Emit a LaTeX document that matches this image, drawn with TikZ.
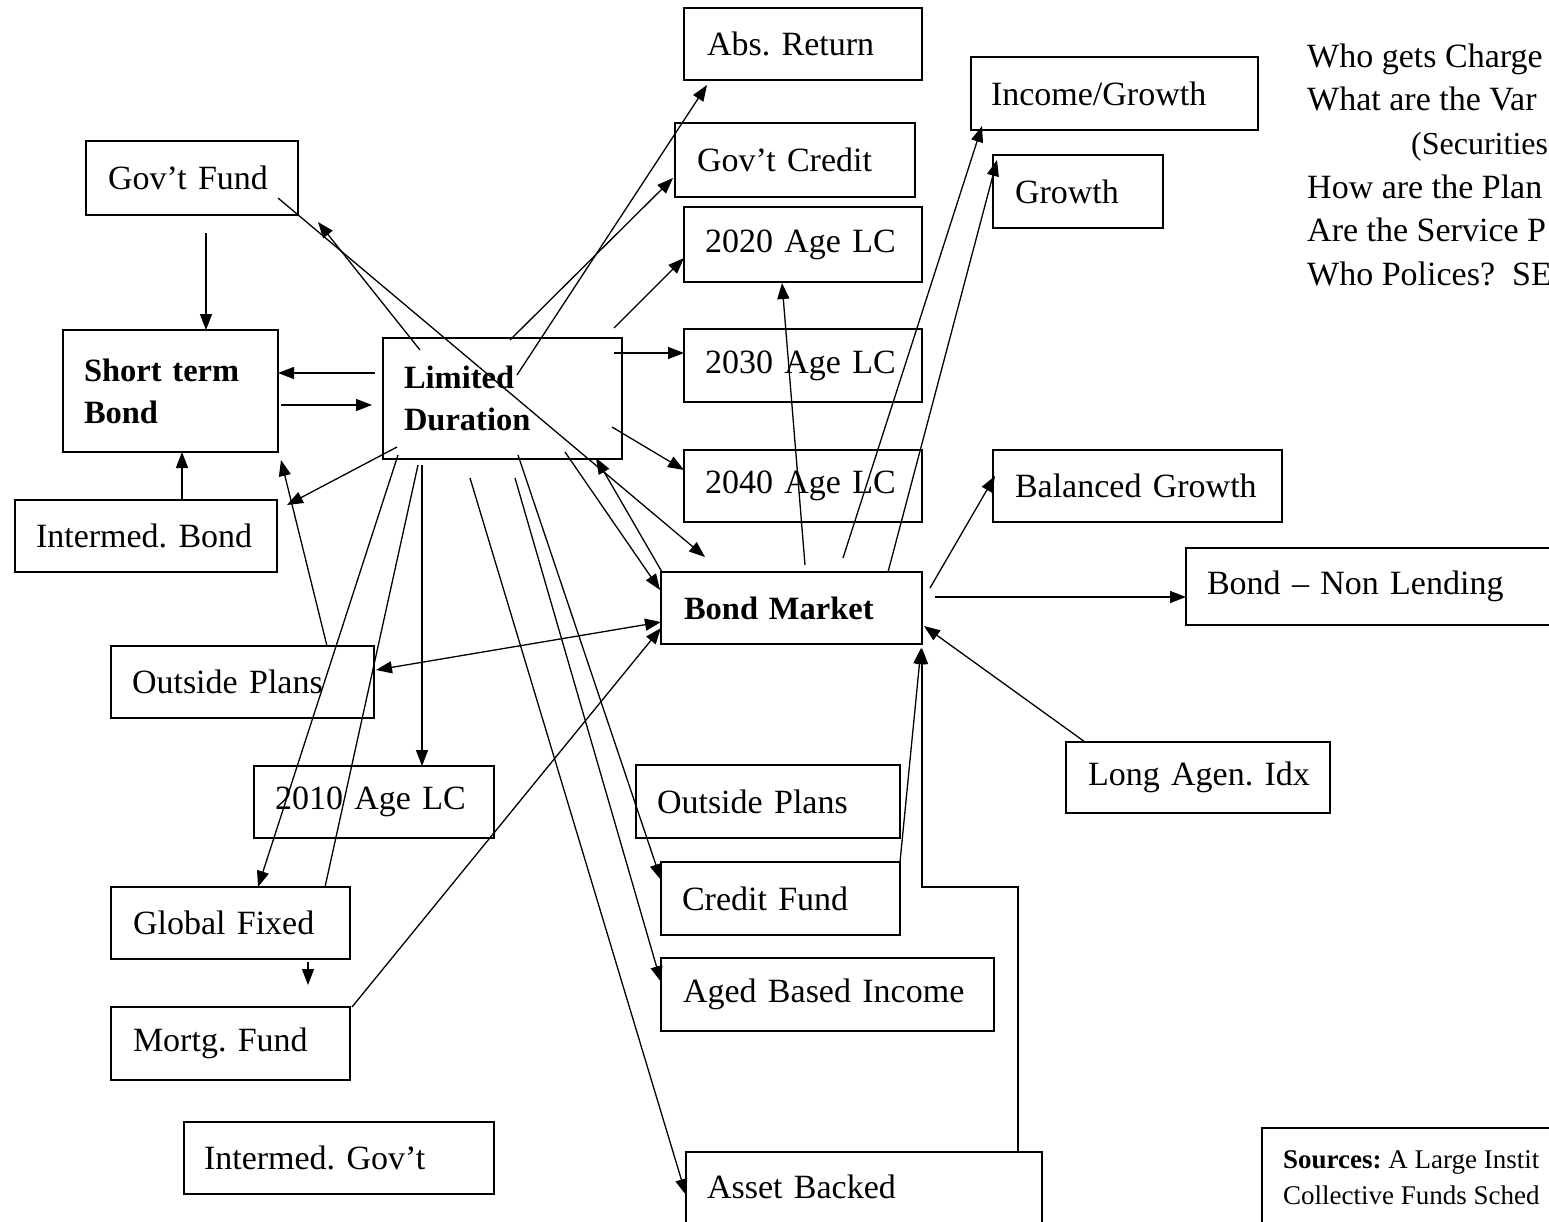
\documentclass[tikz,border=0pt]{standalone}
\usepackage{fontspec}
\setmainfont{Liberation Serif}
\usetikzlibrary{arrows.meta,calc}
\tikzset{
  bx/.style={draw, line width=1.6pt, rectangle, anchor=north west, outer sep=0pt, inner ysep=0pt, align=left, font=\fontsize{34}{42}\selectfont},
  bxb/.style={bx, font=\fontsize{32.5}{42}\selectfont\bfseries},
  arw/.style={line width=1.3pt, -{Triangle[length=16pt,width=12pt]}},
  twoarw/.style={line width=1.3pt, {Triangle[length=16pt,width=12pt]}-{Triangle[length=16pt,width=12pt]}},
  ln/.style={line width=1.3pt},
  qtext/.style={anchor=base west, inner sep=0pt, font=\fontsize{34}{42}\selectfont},
  srctext/.style={anchor=base west, inner sep=0pt, font=\fontsize{27}{36}\selectfont},
}
\begin{document}
\frenchspacing
\begin{tikzpicture}[x=1pt,y=-1pt]
\clip (0,0) rectangle (1549,1221);
% boxes
\node[bx, text width=192pt, inner xsep=23pt, minimum height=72pt] (absr) at (684,8) {\mbox{Abs. Return}};
\node[bx, text width=196pt, inner xsep=22pt, minimum height=74pt] (govc) at (675,123) {\mbox{Gov’t Credit}};
\node[bx, text width=196pt, inner xsep=21pt, minimum height=75pt] (a2020) at (684,207) {\mbox{2020 Age LC}};
\node[bx, text width=196pt, inner xsep=21pt, minimum height=73pt] (a2030) at (684,329) {\mbox{2030 Age LC}};
\node[bx, text width=196pt, inner xsep=21pt, minimum height=72pt] (a2040) at (684,450) {\mbox{2040 Age LC}};
\node[bx, text width=247pt, inner xsep=20pt, minimum height=73pt] (incg) at (971,57) {\mbox{Income/Growth}};
\node[bx, text width=126pt, inner xsep=22pt, minimum height=73pt] (grow) at (993,155) {\mbox{Growth}};
\node[bx, text width=245pt, inner xsep=22pt, minimum height=72pt] (balg) at (993,450) {\mbox{Balanced Growth}};
\node[bx, text width=372pt, inner xsep=21pt, minimum height=77pt] (bnl) at (1186,548) {\mbox{Bond – Non Lending}};
\node[bx, text width=168pt, inner xsep=22pt, minimum height=74pt] (govf) at (86,141) {\mbox{Gov’t Fund}};
\node[bxb, text width=173pt, inner xsep=21pt, minimum height=122pt] (stb) at (63,330) {Short term\\Bond};
\node[bxb, text width=197pt, inner xsep=21pt, minimum height=121pt] (ld) at (383,338) {Limited\\Duration};
\node[bx, text width=220pt, inner xsep=21pt, minimum height=72pt] (ib) at (15,500) {\mbox{Intermed. Bond}};
\node[bx, text width=221pt, inner xsep=21pt, minimum height=72pt] (opl) at (111,646) {\mbox{Outside Plans}};
\node[bx, text width=198pt, inner xsep=21pt, minimum height=72pt] (a2010) at (254,766) {\mbox{2010 Age LC}};
\node[bx, text width=195pt, inner xsep=22pt, minimum height=72pt] (glob) at (111,887) {\mbox{Global Fixed}};
\node[bx, text width=195pt, inner xsep=22pt, minimum height=73pt] (mort) at (111,1007) {\mbox{Mortg. Fund}};
\node[bx, text width=270pt, inner xsep=20pt, minimum height=72pt] (igov) at (184,1122) {\mbox{Intermed. Gov’t}};
\node[bxb, text width=215pt, inner xsep=23pt, minimum height=72pt] (bm) at (661,572) {\mbox{Bond Market}};
\node[bx, text width=222pt, inner xsep=21pt, minimum height=73pt] (opc) at (636,765) {\mbox{Outside Plans}};
\node[bx, text width=197pt, inner xsep=21pt, minimum height=73pt] (cf) at (661,862) {\mbox{Credit Fund}};
\node[bx, text width=289pt, inner xsep=22pt, minimum height=73pt] (abi) at (661,958) {\mbox{Aged Based Income}};
\node[bx, draw=none, text width=314pt, inner xsep=21pt, minimum height=69pt] (ab) at (686,1152) {\mbox{Asset Backed}};
\draw[line width=1.6pt] ($(ab.south west)+(0,20)$) -- (ab.north west) -- (ab.north east) -- ++(0,90);
\node[bx, text width=220pt, inner xsep=22pt, minimum height=71pt] (lai) at (1066,742) {\mbox{Long Agen. Idx}};
% questions (cut at the right edge as in the reference)
\node[qtext] (q1) at (1307,67) {Who gets Charge};
\node[qtext] (q2) at (1307,110) {What are the Var};
\node[qtext, font=\fontsize{32}{42}\selectfont] (q3) at (1411,154) {(Securities};
\node[qtext] (q4) at (1307,198) {How are the Plan};
\node[qtext] (q5) at (1307,241) {Are the Service P};
\node[qtext] (q6) at (1307,285) {Who Polices?\ \ SE};
% sources
\coordinate (srcnw) at (1262,1128);
\draw[line width=1.3pt] ($(srcnw)+(0,120)$) -- (srcnw) -- ++(320,0);
\node[srctext] (s1) at (1283,1168) {\textbf{Sources:} A Large Instit};
\node[srctext] (s2) at (1283,1204) {Collective Funds Sched};
% connectors
\draw[arw] ($(govf.north west)+(120,92)$) -- ($(stb.north west)+(143,0)$);
\draw[arw] ($(ld.north west)+(-8,35)$) -- ($(stb.north west)+(215,43)$);
\draw[arw] ($(stb.north west)+(218,75)$) -- ($(ld.north west)+(-11,67)$);
\draw[arw] ($(ib.north west)+(167,0)$) -- ($(stb.north west)+(119,122)$);
\draw[arw] ($(ld.north west)+(14,109)$) -- ($(ib.north west)+(272,5)$);
\draw[arw] ($(opl.north west)+(216,0)$) -- ($(stb.north west)+(218,130)$);
\draw[arw] ($(ld.north west)+(15,117)$) -- ($(glob.north west)+(147,0)$);
\draw[ln] ($(glob.north west)+(214,0)$) -- ($(ld.north west)+(35,127)$);
\draw[arw] ($(ld.north west)+(39,127)$) -- ($(a2010.north west)+(168,0)$);
\draw[arw] ($(ld.north west)+(37,12)$) -- ($(govf.north west)+(232,81)$);
\draw[arw] ($(govf.north west)+(192,57)$) -- ($(bm.north west)+(44,-15)$);
\draw[arw] ($(ld.north west)+(134,37)$) -- ($(absr.north west)+(23,77)$);
\draw[arw] ($(ld.north west)+(127,2)$) -- ($(govc.north west)+(-2,55)$);
\draw[arw] ($(ld.north west)+(231,-10)$) -- ($(a2020.north west)+(0,51)$);
\draw[arw] ($(ld.north west)+(231,15)$) -- ($(a2030.north west)+(0,24)$);
\draw[arw] ($(ld.north west)+(229,89)$) -- ($(a2040.north west)+(0,20)$);
\draw[arw] ($(bm.north west)+(144,-7)$) -- ($(a2020.north west)+(98,76)$);
\draw[arw] ($(bm.north west)+(182,-14)$) -- ($(incg.north west)+(11,69)$);
\draw[arw] ($(bm.north west)+(227,0)$) -- ($(grow.north west)+(4,5)$);
\draw[arw] ($(bm.north west)+(269,16)$) -- ($(balg.north west)+(2,26)$);
\draw[arw] ($(bm.north west)+(274,25)$) -- ($(bnl.north west)+(0,49)$);
\draw[arw] ($(lai.north west)+(19,0)$) -- ($(bm.north west)+(263,54)$);
\draw[arw] ($(cf.north west)+(239,0)$) -- ($(bm.north west)+(260,76)$);
\draw[arw] ($(ab.north west)+(332,0)$) -- ++(0,-265) -- ++(-96,0) -- ($(bm.north west)+(261,76)$);
\draw[twoarw] ($(opl.north west)+(265,24)$) -- ($(bm.north west)+(0,50)$);
\draw[arw] ($(mort.north west)+(241,0)$) -- ($(bm.north west)+(0,56)$);
\draw[arw] ($(ld.north west)+(135,117)$) -- ($(cf.north west)+(0,18)$);
\draw[arw] ($(ld.north west)+(132,140)$) -- ($(abi.north west)+(0,24)$);
\draw[arw] ($(ld.north west)+(87,140)$) -- ($(ab.north west)+(0,43)$);
\draw[arw] ($(ld.north west)+(182,114)$) -- ($(bm.north west)+(-1,18)$);
\draw[arw] ($(bm.north west)+(1,0)$) -- ($(ld.north west)+(213,120)$);
\coordinate (globout) at (308,985);
\draw[arw] ($(glob.north west)+(197,75)$) -- (globout);
\end{tikzpicture}
\end{document}
